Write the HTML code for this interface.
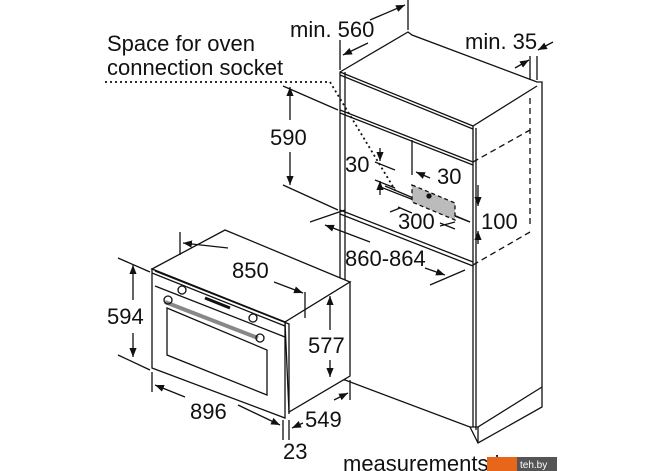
<!DOCTYPE html>
<html><head><meta charset="utf-8"><style>
html,body{margin:0;padding:0;background:#fff;}
svg{display:block;}
text{font-family:"Liberation Sans",sans-serif;font-size:22px;fill:#111;}
</style></head><body>
<svg width="670" height="471" viewBox="0 0 670 471" xmlns="http://www.w3.org/2000/svg">
<defs>
<marker id="a" viewBox="0 0 10 10" refX="10" refY="5" markerWidth="9" markerHeight="9" orient="auto-start-reverse" markerUnits="userSpaceOnUse"><path d="M0,1 L10,5 L0,9 z" fill="#111"/></marker>
</defs>
<g stroke="#111" stroke-width="1.3" fill="none">
<path d="M340,72 L408,32 L412,35 L537,82 L542,82 L542,407 L478,443 L470,427 L345,380 L340,380 Z" fill="#fff"/>
<path d="M340,72 L473,126 L537,86"/>
<path d="M340,75 L473,129"/>
<path d="M340,110 L473,162"/>
<path d="M340,113 L473,165"/>
<path d="M473,126 L473,427 M476,128 L476,430 M542,387 L478,427 L478,443 M470,427 L478,427"/>
<path d="M345,72 L345,380"/>
<path d="M340,210 L473,262 M340,214 L473,266"/>
<path d="M412,140 L412,175"/>
<path d="M385,186 L470,222"/>
<path d="M473,162 L530,130 M530,98 L530,228 M473,265 L530,232" stroke-dasharray="6,4"/>
<path d="M378,186 L470,222" />
<path d="M414,185 L414,202"/>
<path d="M412,185 L455,203 L455,220 L412,202 Z" fill="#bbb" stroke-dasharray="4,3"/>
<circle cx="429" cy="196" r="2" fill="#111"/>
<path d="M105,82 L330,82 L395,190" stroke-dasharray="2,3" stroke-width="1.8"/>
<path d="M283,86 L338,110 M283,185 L338,210"/>
<path d="M290,120 L290,87" marker-end="url(#a)"/>
<path d="M290,152 L290,185" marker-end="url(#a)"/>
<path d="M340,40 L340,70 M408,0 L408,30"/>
<path d="M370,20 L405,5" marker-end="url(#a)"/>
<path d="M368,43 L343,55" marker-end="url(#a)"/>
<path d="M530,56 L530,80 M537,56 L537,80"/>
<path d="M515,68 L529,60" marker-end="url(#a)"/>
<path d="M553,42 L538,50" marker-end="url(#a)"/>
<path d="M375,162 L395,170 M375,180 L395,188"/>
<path d="M380,148 L380,161" marker-end="url(#a)"/>
<path d="M380,195 L380,181" marker-end="url(#a)"/>
<path d="M430,178 L416,172" marker-end="url(#a)"/>
<path d="M398,207 L412,213 M440,223 L455,229"/>
<path d="M400,208 L390,212"/>
<path d="M440,226 L455,222" />
<path d="M478,185 L478,206" marker-end="url(#a)"/>
<path d="M478,244 L478,231" marker-end="url(#a)"/>
<path d="M310,222 L345,210 M430,285 L465,270"/>
<path d="M370,242 L325,225" marker-end="url(#a)"/>
<path d="M425,268 L445,275" marker-end="url(#a)"/>
<path d="M152,269 L225,230 L350,282 L285,322 Z" fill="#fff"/>
<path d="M285,322 L350,282 L350,376 L289,412 Z" fill="#fff"/>
<path d="M152,269 L285,322 L285,418 L152,368 Z" fill="#fff"/>
<path d="M152,273 L285,326 M155,271 L289,324 L289,414"/>
<path d="M155,286 L285,337"/>
<path d="M167,308 L267,350 L267,395 L167,355 Z"/>
<path d="M165,302 L258,338" stroke-width="4" stroke="#888"/>
<path d="M205,298 L230,308" stroke-width="3"/>
<circle cx="182" cy="290" r="4"/><circle cx="253" cy="318" r="4"/>
<circle cx="168" cy="300" r="4"/><circle cx="260" cy="338" r="4"/>
<path d="M180,232 L180,255 M305,292 L305,318"/>
<path d="M228,248 L183,243" marker-end="url(#a)"/>
<path d="M274,282 L303,293" marker-end="url(#a)"/>
<path d="M118,258 L150,272 M118,355 L150,370"/>
<path d="M133,300 L133,265" marker-end="url(#a)"/>
<path d="M133,333 L133,357" marker-end="url(#a)"/>
<path d="M330,330 L330,296" marker-end="url(#a)"/>
<path d="M330,360 L330,377" marker-end="url(#a)"/>
<path d="M152,372 L152,392 M283,420 L283,440 M289,420 L289,440 M350,380 L350,400"/>
<path d="M185,397 L155,385" marker-end="url(#a)"/>
<path d="M238,405 L280,425" marker-end="url(#a)"/>
<path d="M303,423 L292,428" marker-end="url(#a)"/>
<path d="M334,400 L348,393" marker-end="url(#a)"/>
</g>
<text x="107" y="51">Space for oven</text>
<text x="107" y="75">connection socket</text>
<text x="290" y="37">min. 560</text>
<text x="465" y="49">min. 35</text>
<text x="270" y="145">590</text>
<text x="345" y="172">30</text>
<text x="437" y="184">30</text>
<text x="398" y="229">300</text>
<text x="481" y="229">100</text>
<text x="345" y="266">860-864</text>
<text x="232" y="278">850</text>
<text x="107" y="324">594</text>
<text x="308" y="353">577</text>
<text x="190" y="419">896</text>
<text x="305" y="427">549</text>
<text x="283" y="459">23</text>
<text x="343" y="471">measurements in mm</text>
<rect x="487" y="457" width="30" height="14" fill="#e8661a"/>
<rect x="517" y="457" width="40" height="14" fill="#555"/>
<text x="520" y="468" style="font-size:10px;fill:#fff">teh.by</text>
</svg>
</body></html>
